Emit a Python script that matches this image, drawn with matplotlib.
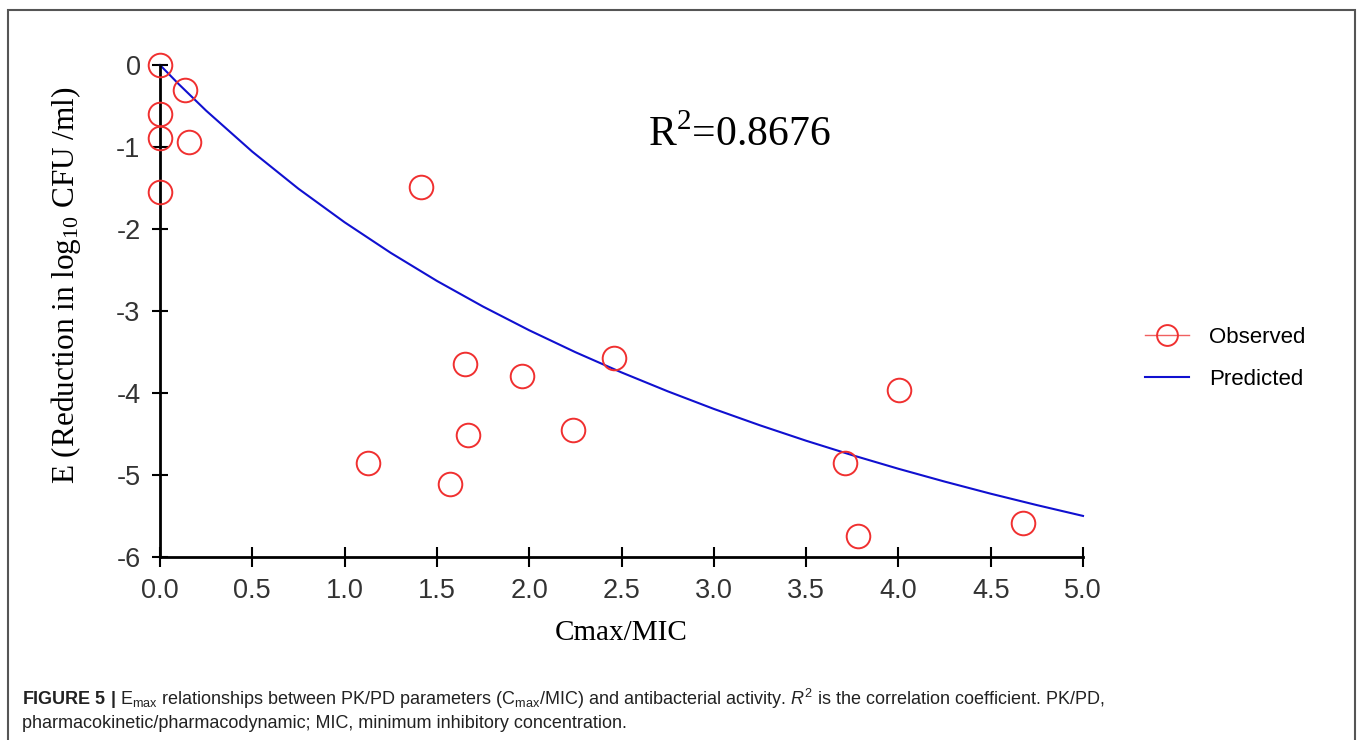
import numpy as np
import matplotlib
matplotlib.use("Agg")
import matplotlib.pyplot as plt
from matplotlib.lines import Line2D
from matplotlib.patches import Rectangle

plt.rcParams['font.family'] = ['Liberation Sans', 'DejaVu Sans']
plt.rcParams['mathtext.fontset'] = 'custom'
plt.rcParams['mathtext.rm'] = 'Liberation Serif'
plt.rcParams['mathtext.sf'] = 'Liberation Sans'
plt.rcParams['mathtext.bf'] = 'Liberation Sans:bold'
plt.rcParams['mathtext.it'] = 'Liberation Sans:italic'

# observed points (Cmax/MIC, E)
obs_x = [0.0, 0.135, 0.0, 0.0, 0.157, 0.0, 1.414, 1.652, 1.961, 2.46,
         1.668, 2.237, 1.127, 1.571, 3.711, 4.003, 3.781, 4.675]
obs_y = [0.0, -0.30, -0.60, -0.89, -0.94, -1.55, -1.49, -3.65, -3.79, -3.57,
         -4.51, -4.45, -4.85, -5.11, -4.85, -3.96, -5.74, -5.59]

# predicted curve
pred_x = [0.0, 0.1, 0.25, 0.5, 0.75, 1.0, 1.25, 1.5, 1.75, 2.0, 2.25, 2.5,
          2.75, 3.0, 3.25, 3.5, 3.75, 4.0, 4.25, 4.5, 4.75, 5.0]
pred_y = [0.0, -0.23, -0.557, -1.057, -1.509, -1.918, -2.291, -2.633, -2.946,
          -3.235, -3.502, -3.749, -3.979, -4.194, -4.394, -4.582, -4.758,
          -4.924, -5.080, -5.228, -5.367, -5.499]

x_ticks = [0.0, 0.5, 1.0, 1.5, 2.0, 2.5, 3.0, 3.5, 4.0, 4.5, 5.0]
y_ticks = [0, -1, -2, -3, -4, -5, -6]

fig = plt.figure(figsize=(13.6, 7.4), dpi=100)
ax = fig.add_axes([160/1360, 1-557/740, (1083-160)/1360, (557-65)/740])

ax.plot(pred_x, pred_y, color='#1010d0', lw=1.5, label='Predicted', clip_on=False)
ax.plot(obs_x, obs_y, 'o', ms=17, mfc='none', mec='#f03030', mew=1.4,
        ls='none', clip_on=False, zorder=3)

ax.set_xlim(0, 5)
ax.set_ylim(-6, 0)
ax.set_xticks(x_ticks)
ax.set_xticklabels(['%.1f' % v for v in x_ticks])
ax.set_yticks(y_ticks)
ax.set_yticklabels([str(v) for v in y_ticks])
for s in ['top', 'right']:
    ax.spines[s].set_visible(False)
for s in ['left', 'bottom']:
    ax.spines[s].set_linewidth(2)
ax.tick_params(length=8, width=1.5, labelsize=19.5, colors='black',
               labelcolor='#333333', pad=8)
ax.tick_params(axis='x', direction='inout', length=14)
ax.tick_params(axis='y', direction='inout', length=12)

ax.set_xlabel('Cmax/MIC', family='Liberation Serif', fontsize=21, labelpad=12)
ax.set_ylabel(r'E (Reduction in log$\mathregular{_{10}}$ CFU /ml)',
              family='Liberation Serif', fontsize=22.5)
ax.yaxis.set_label_coords(-0.083, 0.553)

ax.text(3.14, -0.85, r'R$^{\mathrm{2}}$=0.8676', family='Liberation Serif',
        fontsize=30, ha='center', va='center')

handles = [Line2D([], [], color='#f06060', lw=1, marker='o', ms=15,
                  mfc='none', mec='#f03030', mew=1.4),
           Line2D([], [], color='#1010d0', lw=1.5)]
fig.legend(handles, ['Observed', 'Predicted'], loc='center left',
           bbox_to_anchor=(1145/1360, 1-358.5/740), frameon=False,
           fontsize=16, borderpad=0, handlelength=2.0, handletextpad=0.9,
           labelspacing=0.95, borderaxespad=0)

# outer frame
fig.patches.append(Rectangle((8/1360, -0.05), (1355-8)/1360, 1.05-10/740,
                             transform=fig.transFigure, fill=False,
                             edgecolor='#555555', lw=1.5))

cap1 = (r'$\mathbf{FIGURE\ 5\ |}$ E$_{\mathsf{max}}$ relationships between PK/PD '
        r'parameters (C$_{\mathsf{max}}$/MIC) and antibacterial activity. '
        r'$\mathit{R}^{\mathsf{2}}$ is the correlation coefficient. PK/PD,')
cap2 = 'pharmacokinetic/pharmacodynamic; MIC, minimum inhibitory concentration.'
fig.text(22/1360, 1-699/740, cap1, fontsize=13, va='center', color='#222222')
fig.text(22/1360, 1-723/740, cap2, fontsize=13, va='center', color='#222222')

fig.savefig('out.png', dpi=100)
